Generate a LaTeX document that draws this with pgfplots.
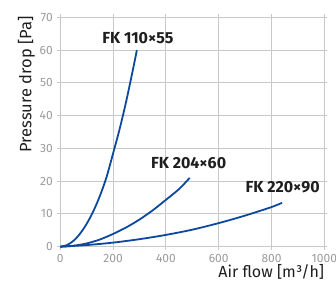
\documentclass[border=0pt]{standalone}
\usepackage{fontspec}
\setmainfont{Fira Sans}
\usepackage{pgfplots}
\pgfplotsset{compat=1.18}
\definecolor{curve}{RGB}{12,72,158}
\definecolor{gridc}{RGB}{200,200,200}
\definecolor{tickc}{RGB}{155,155,155}
\definecolor{labc}{RGB}{30,30,30}
\begin{document}
\begin{tikzpicture}[x=1pt,y=1pt]
\path[use as bounding box] (-60.3,-35.3) rectangle (275.7,246.7);
\begin{axis}[
  at={(0,0)}, anchor=south west,
  scale only axis, width=264pt, height=229.4pt,
  xmin=0, xmax=1000, ymin=0, ymax=70,
  xtick={0,200,...,1000}, ytick={0,10,...,70},
  grid=major, major grid style={gridc, line width=0.9pt},
  axis line style={gridc, line width=0.9pt},
  tick align=outside, major tick length=3pt,
  tick style={gridc, line width=0.9pt},
  tick label style={tickc, font=\fontsize{12}{13}\selectfont},
  /pgf/number format/assume math mode=true,
  /pgf/number format/1000 sep={},
  xticklabel style={yshift=-1pt},
  yticklabel style={xshift=-1pt},
  clip=false,
]
\addplot[curve, line width=1.8pt, smooth] coordinates {
(0,0)(25,0.5)(50,1.8)(75,4.0)(100,7.0)(125,10.8)(150,15.5)(175,21.2)(200,28.5)(225,36)(250,44.5)(275,54)(290,60)};
\addplot[curve, line width=1.8pt, smooth] coordinates {
(0,0)(50,0.3)(100,1.0)(150,2.2)(200,3.9)(250,5.9)(300,8.3)(350,11.1)(400,14.3)(450,17.6)(490,21)};
\addplot[curve, line width=1.8pt, smooth] coordinates {
(0,0)(100,0.5)(200,1.25)(300,2.3)(400,3.6)(500,5.2)(600,7.2)(700,9.5)(800,12.1)(840,13.4)};
\node[font=\bfseries\fontsize{16}{18}\selectfont, labc] at (axis cs:294,63.7) {FK 110×55};
\node[font=\bfseries\fontsize{16}{18}\selectfont, labc] at (axis cs:486,25.5) {FK 204×60};
\node[font=\bfseries\fontsize{16}{18}\selectfont, labc] at (axis cs:842,18.1) {FK 220×90};
\node[rotate=90, anchor=north east, labc, font=\fontsize{16.5}{18}\selectfont, inner sep=0pt] at ([xshift=-42.5pt,yshift=1pt]axis description cs:0,1) {Pressure drop [Pa]};
\node[anchor=south east, labc, font=\fontsize{16}{18}\selectfont, inner sep=0pt] at ([yshift=-32.8pt]axis description cs:1,0) {Air flow [m³/h]};
\end{axis}
\end{tikzpicture}
\end{document}
